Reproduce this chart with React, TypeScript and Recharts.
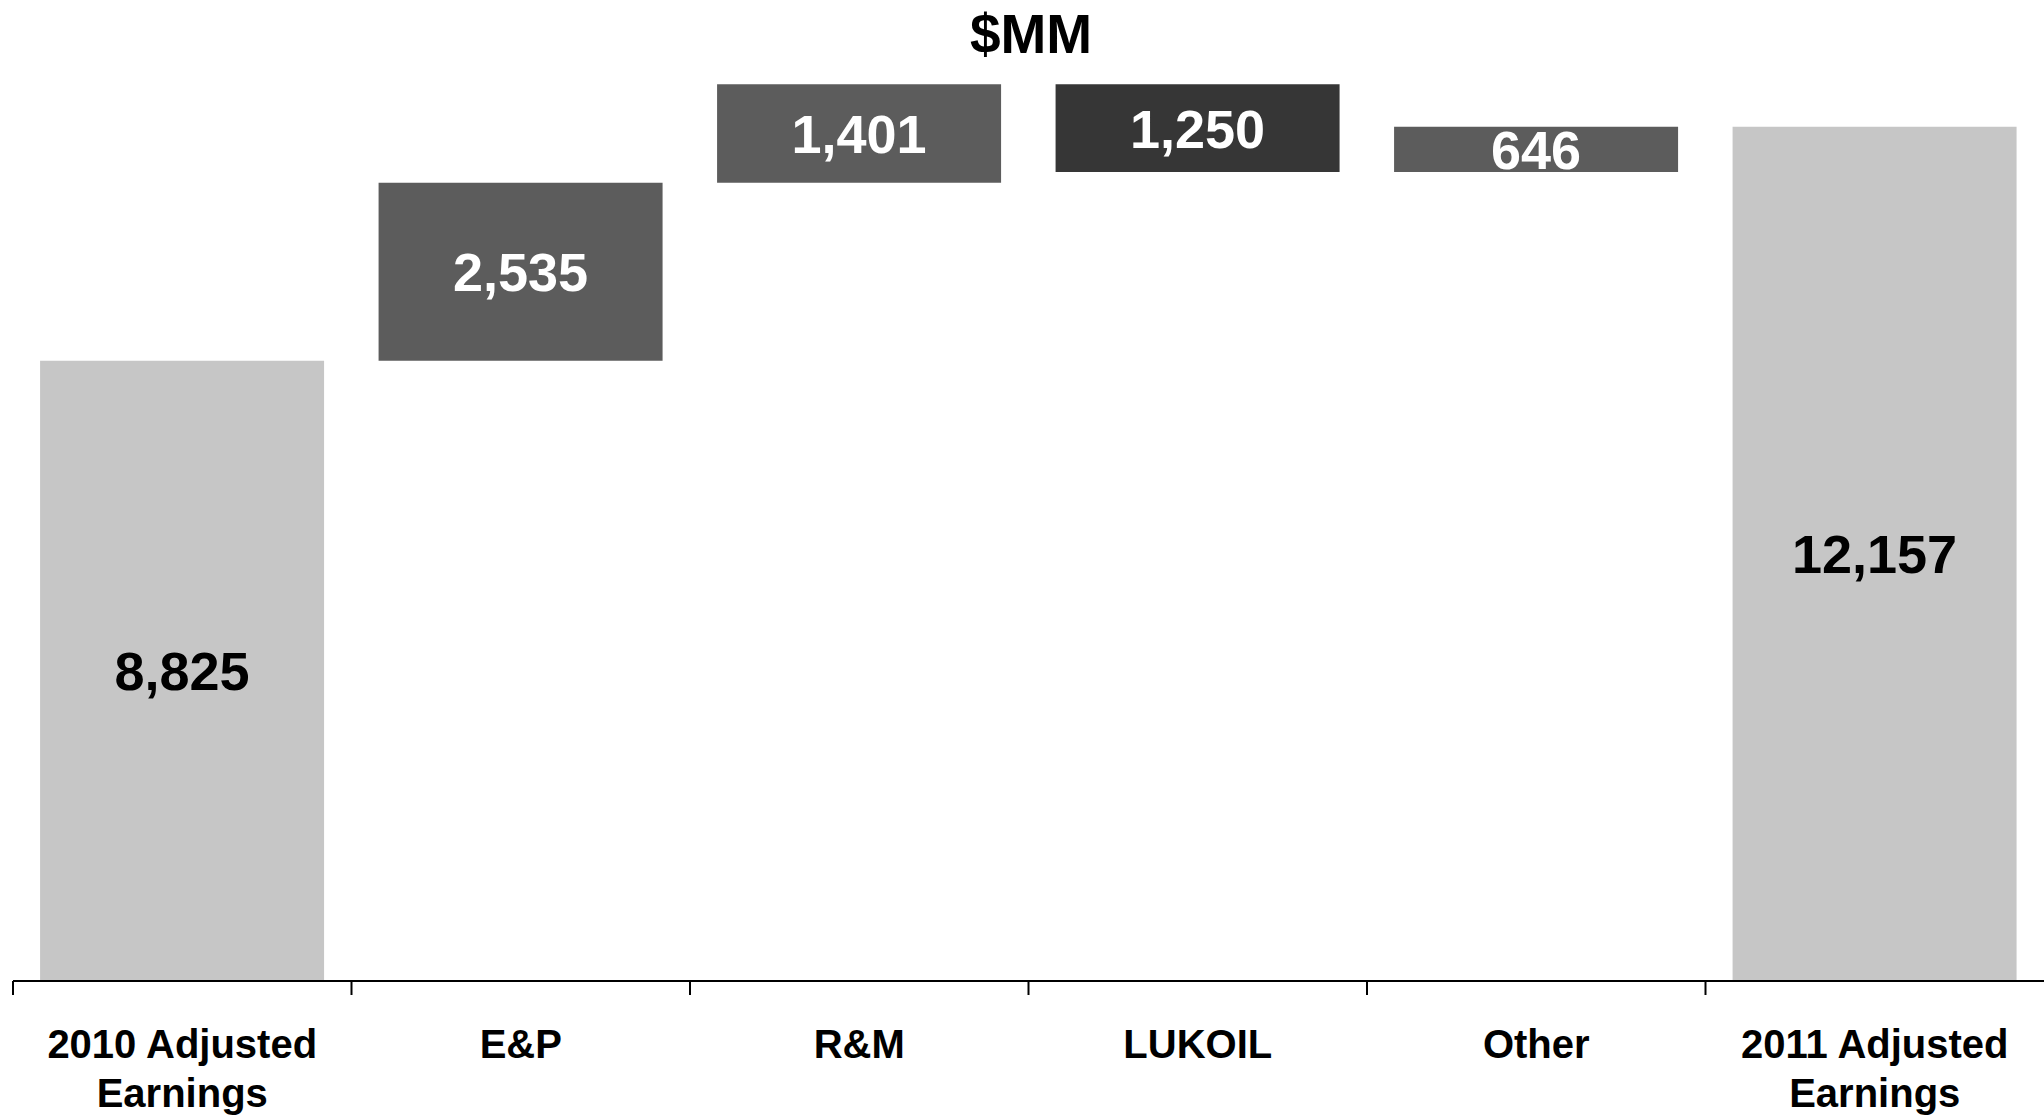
import React from 'react';
import { BarChart, Bar, XAxis, YAxis, Cell, LabelList } from 'recharts';

const categories = ['2010 Adjusted\nEarnings', 'E&P', 'R&M', 'LUKOIL', 'Other', '2011 Adjusted\nEarnings'];
const changes = [8825, 2535, 1401, -1250, 646, 12157];
const isTotal = [true, false, false, false, false, true];
const barColors = ['#c6c6c6', '#5c5c5c', '#5c5c5c', '#363636', '#5c5c5c', '#c6c6c6'];
const labelColors = ['#000000', '#ffffff', '#ffffff', '#ffffff', '#ffffff', '#000000'];
const title = '$MM';

const CHART_W = 2044;
const CHART_H = 1118;
const MARGIN = { top: 0, right: 0, bottom: 0, left: 13 };
const FONT = '"Liberation Sans", Arial, Helvetica, sans-serif';

const rows = (() => {
  let running = 0;
  return categories.map((name, i) => {
    const v = changes[i];
    let base: number;
    let size: number;
    if (isTotal[i]) {
      base = 0;
      size = v;
      running = v;
    } else if (v >= 0) {
      base = running;
      size = v;
      running += v;
    } else {
      base = running + v;
      size = -v;
      running += v;
    }
    return { name, base, size, label: Math.abs(v).toLocaleString('en-US') };
  });
})();

const bandWidth = (CHART_W - MARGIN.left - MARGIN.right) / categories.length;

const CategoryTick = (props: any) => {
  const { x, y, payload } = props;
  const lines = String(payload.value).split('\n');
  return (
    <g>
      <line x1={x - bandWidth / 2} x2={x - bandWidth / 2} y1={y} y2={y + 14} stroke="#000" strokeWidth={2} />
      <text
        x={x}
        y={y}
        textAnchor="middle"
        fontFamily={FONT}
        fontWeight="bold"
        fontSize={40}
        fill="#000"
      >
        {lines.map((l, i) => (
          <tspan key={i} x={x} dy={i === 0 ? 77 : 49}>
            {l}
          </tspan>
        ))}
      </text>
    </g>
  );
};

const ValueLabel = (props: any) => {
  const { x, y, width, height, index } = props;
  const top = Math.min(y, y + height);
  const h = Math.abs(height);
  return (
    <text
      x={x + width / 2}
      y={top + h / 2}
      dy="0.36em"
      textAnchor="middle"
      fontFamily={FONT}
      fontWeight="bold"
      fontSize={54}
      fill={labelColors[index]}
    >
      {rows[index].label}
    </text>
  );
};

export default function App() {
  return (
    <div style={{ position: 'absolute', left: 0, top: 0, width: CHART_W, height: CHART_H, background: '#fff' }}>
      <BarChart width={CHART_W} height={CHART_H} data={rows} margin={MARGIN} barCategoryGap="8%">
        <XAxis
          dataKey="name"
          height={137}
          interval={0}
          tickLine={false}
          tickSize={0}
          tickMargin={0}
          axisLine={{ stroke: '#000', strokeWidth: 2 }}
          tick={<CategoryTick />}
        />
        <YAxis hide domain={[0, 13960]} />
        <Bar dataKey="base" stackId="w" fill="transparent" isAnimationActive={false} />
        <Bar dataKey="size" stackId="w" isAnimationActive={false}>
          {rows.map((r, i) => (
            <Cell key={r.name} fill={barColors[i]} />
          ))}
          <LabelList dataKey="size" content={<ValueLabel />} />
        </Bar>
      </BarChart>
      <div
        style={{
          position: 'absolute',
          left: 931,
          top: 7,
          width: 200,
          textAlign: 'center',
          fontFamily: FONT,
          fontWeight: 'bold',
          fontSize: 55,
          lineHeight: '55px',
          color: '#000',
        }}
      >
        {title}
      </div>
    </div>
  );
}
